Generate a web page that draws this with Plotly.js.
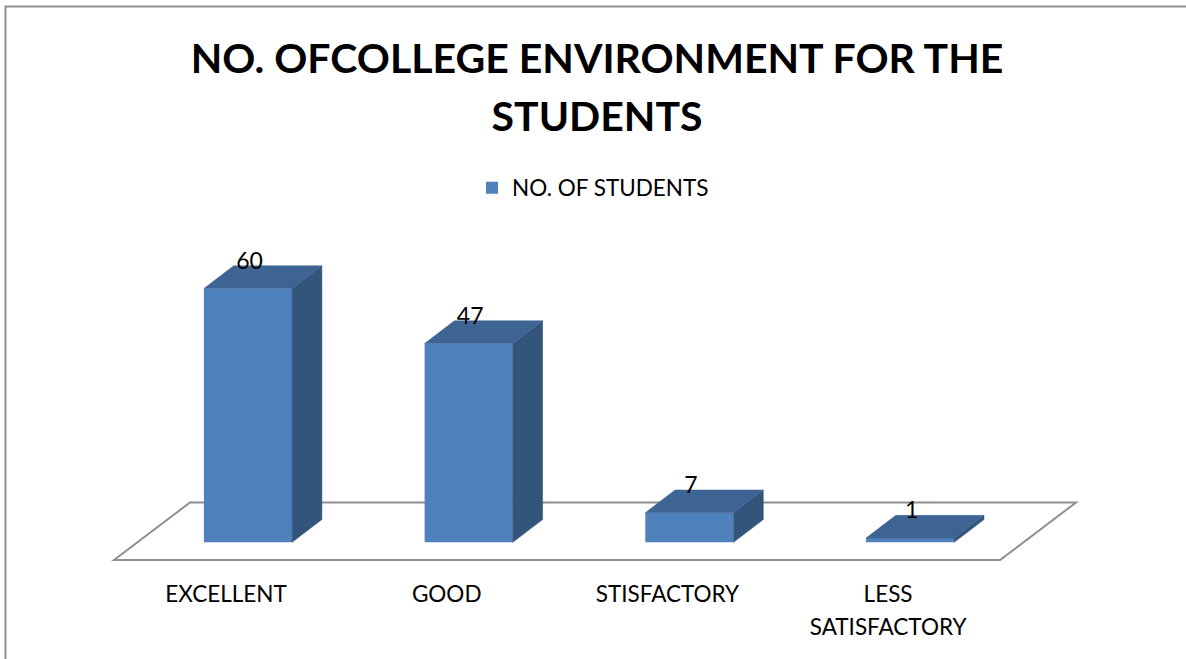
<!DOCTYPE html>
<html>
<head>
<meta charset="utf-8">
<script src="https://cdn.plot.ly/plotly-3.0.1.min.js"></script>
<style>html,body{margin:0;padding:0;background:#fff;overflow:hidden}</style>
</head>
<body>
<div id="chart" style="width:1186px;height:659px"></div>
<script>
const categories = ["EXCELLENT", "GOOD", "STISFACTORY", "LESS<br>SATISFACTORY"];
const values = [60, 47, 7, 1];
const seriesName = "NO. OF STUDENTS";
const titleLines = ["NO. OFCOLLEGE ENVIRONMENT FOR THE", "STUDENTS"];

const W = 1186, H = 659, plotBottom = 576;
const FONT = "Lato, 'Open Sans', sans-serif";
const pxPerCat = 220.7, pxPerUnit = 4.23, x0px = 226, y0px = 542.3;
const xr = [-x0px / pxPerCat, (W - x0px) / pxPerCat];
const yr = [(y0px - plotBottom) / pxPerUnit, y0px / pxPerUnit];
const X = p => (p - x0px) / pxPerCat;
const Y = p => (y0px - p) / pxPerUnit;

const barShift = 22 / pxPerCat, barW = 88.2 / pxPerCat;
const dx = 29.8 / pxPerCat, dy = 22.7 / pxPerUnit;
const pos = categories.map((_, i) => i + barShift);

const faces = (color, build) => values.map((v, i) => {
  const r = pos[i] + barW / 2, l = pos[i] - barW / 2;
  const [xs, ys] = build(l, r, v);
  return {type: "scatter", mode: "lines", x: xs, y: ys, fill: "toself", fillcolor: color,
          line: {color: color, width: 0.5}, hoverinfo: "skip", showlegend: false};
});
const sides = faces("#33547b", (l, r, v) => [[r, r + dx, r + dx, r, r], [0, dy, v + dy, v, 0]]);
const tops = faces("#3e6493", (l, r, v) => [[l, l + dx, r + dx, r, l], [v, v + dy, v + dy, v, v]]);

const traces = [
  {type: "bar", name: seriesName, x: pos, y: values, width: barW,
   marker: {color: "#4f81bd", line: {width: 0}}, showlegend: true, hoverinfo: "y"},
  ...sides, ...tops,
  {type: "scatter", mode: "text", x: pos.map(p => p + 1.5 / pxPerCat),
   y: values.map(v => v + 25.5 / pxPerUnit), text: values.map(String),
   textposition: "middle center", textfont: {family: FONT, size: 23, color: "#000"},
   hoverinfo: "skip", showlegend: false}
];

const floorPx = [[114, 560], [190, 502.5], [1076, 502.5], [1000, 560], [114, 560]];
const floorPath = floorPx.map((p, i) => (i ? "L" : "M") + X(p[0]) + "," + Y(p[1])).join(" ") + " Z";

const sized = (txt, size) => txt.split("<br>").map(s => `<span style="font-size:${size}px">${s}</span>`).join("<br>");

const PY = p => 1 - p / plotBottom;
const layout = {
  width: W, height: H,
  margin: {l: 0, r: 0, t: 0, b: H - plotBottom, pad: 0},
  paper_bgcolor: "#fff", plot_bgcolor: "rgba(0,0,0,0)",
  title: {text: "<b>" + sized(titleLines.join("<br>"), 41) + "</b>",
          font: {family: FONT, size: 44.6, color: "#000"},
          x: 597 / W, xanchor: "center", y: 1 - 73 / H, yanchor: "top", yref: "container"},
  xaxis: {range: xr, tickmode: "array", tickvals: categories.map((_, i) => i),
          ticktext: categories.map(c => sized(c, 22.5)),
          showgrid: false, zeroline: false, showline: false, ticks: "",
          tickfont: {family: FONT, size: 25.4, color: "#000"}, tickangle: 0, fixedrange: true},
  yaxis: {range: yr, visible: false, fixedrange: true},
  showlegend: true,
  legend: {orientation: "h", x: 593 / W, xanchor: "center", y: PY(188), yanchor: "middle",
           font: {family: FONT, size: 22.5, color: "#000"}, bgcolor: "rgba(0,0,0,0)"},
  shapes: [
    {type: "path", layer: "below", xref: "x", yref: "y", path: floorPath,
     line: {color: "#8f8f8f", width: 2}, fillcolor: "#fff"},
    {type: "path", layer: "above", xref: "paper", yref: "paper",
     path: `M${5.5 / W},${PY(659)} L${5.5 / W},${PY(6.5)} L1,${PY(6.5)}`,
     line: {color: "#8f8f8f", width: 2}}
  ]
};

Plotly.newPlot("chart", traces, layout, {displayModeBar: false, responsive: false});
</script>
</body>
</html>
